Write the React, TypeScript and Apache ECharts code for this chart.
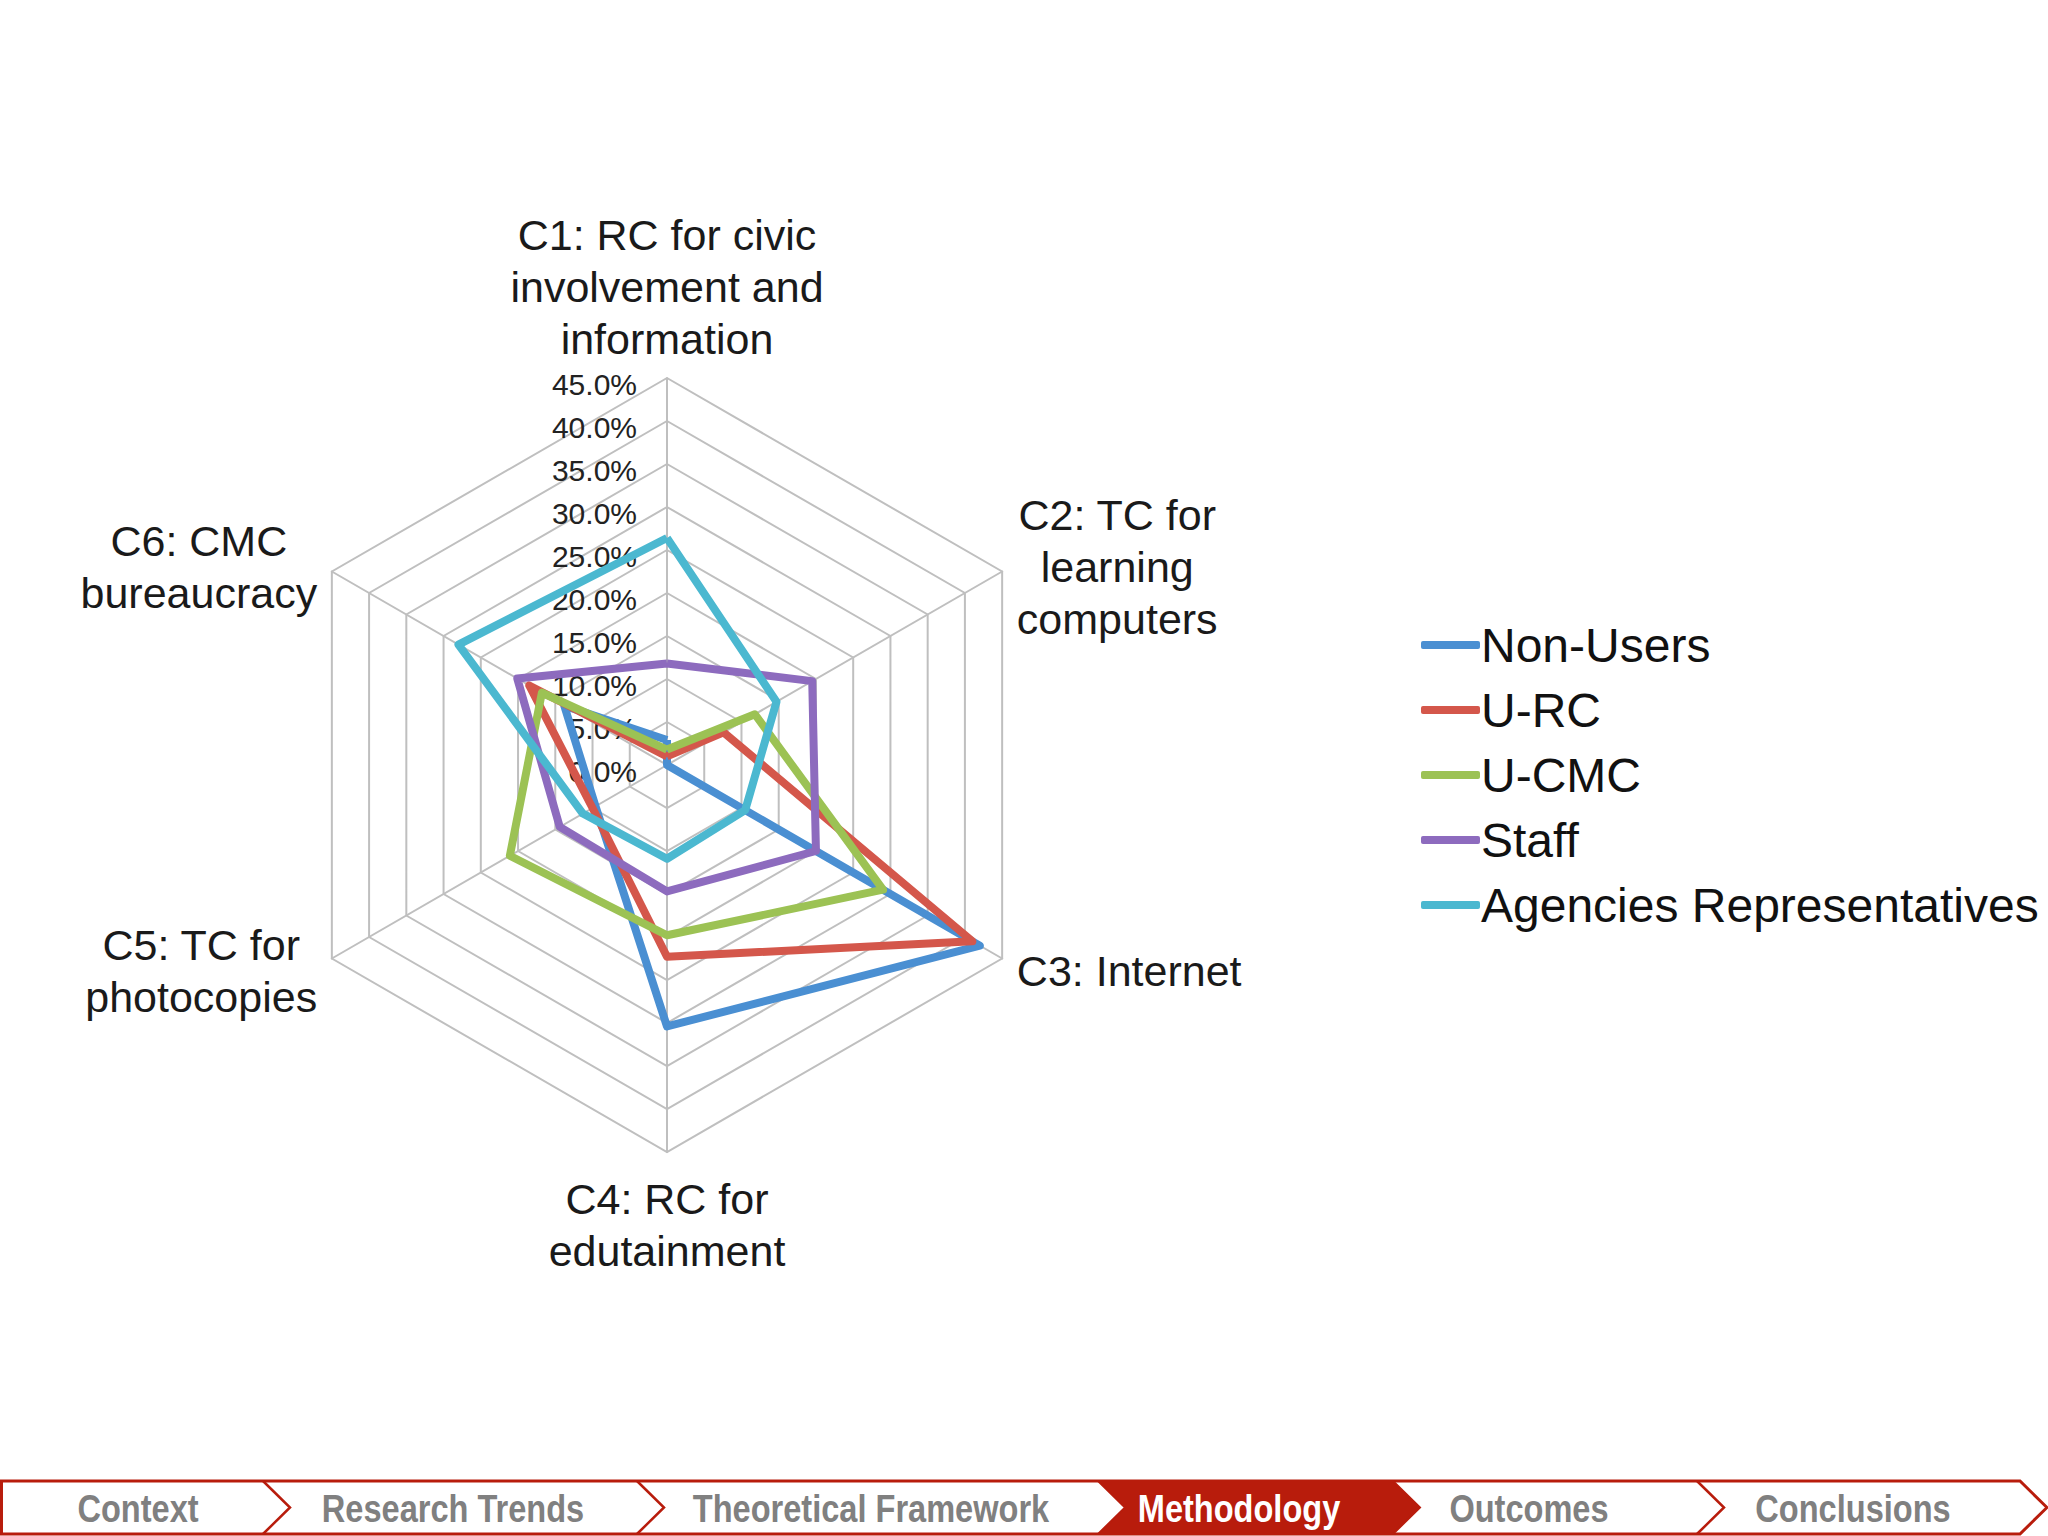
import React, { useEffect, useRef } from "react";
import * as echarts from "echarts";

// ---------- data ----------
const categories = [
  "C1: RC for civic\ninvolvement and\ninformation",
  "C2: TC for\nlearning\ncomputers",
  "C3: Internet",
  "C4: RC for\nedutainment",
  "C5: TC for\nphotocopies",
  "C6: CMC\nbureaucracy",
];
const seriesNames = ["Non-Users", "U-RC", "U-CMC", "Staff", "Agencies Representatives"];
// values in percent, order C1..C6
const nonUsers = [2.9, 0, 42.0, 30.4, 9.6, 13.8];
const uRC = [1.0, 7.6, 41.0, 22.3, 10.0, 18.5];
const uCMC = [1.8, 11.8, 29.0, 19.8, 21.1, 16.8];
const staff = [11.8, 19.5, 20.0, 14.7, 14.4, 20.1];
const agencies = [26.4, 14.7, 10.5, 10.9, 11.3, 28.0];
const axisMin = 0;
const axisMax = 45;
const axisSplits = 9;
const navItems = ["Context", "Research Trends", "Theoretical Framework", "Methodology", "Outcomes", "Conclusions"];
const activeNav = 3;

const seriesValues = [nonUsers, uRC, uCMC, staff, agencies];
const colors = ["#4A8FD2", "#D4574B", "#9CC254", "#8D6BBE", "#4BB8D0"];
const FONT = "'Liberation Sans', Arial, Helvetica, sans-serif";

export default function App() {
  const ref = useRef<HTMLDivElement>(null);

  useEffect(() => {
    if (!ref.current) return;
    const chart = echarts.init(ref.current, undefined, { renderer: "svg" });

    // ECharts lays indicators counter-clockwise; reorder so C2 sits upper-right
    const order = [0, 5, 4, 3, 2, 1];

    const indicator = order.map((k, j) => {
      const ind: any = { name: categories[k], min: axisMin, max: axisMax };
      if (k === 0 || k === 3) ind.nameGap = 13;
      if (j === 0) {
        ind.axisLabel = {
          show: true,
          color: "#222",
          fontSize: 30,
          fontFamily: FONT,
          align: "right",
          margin: 30,
          formatter: (v: number) => `{t|${Number(v).toFixed(1)}%}`,
          rich: {
            t: { fontSize: 30, color: "#222", fontFamily: FONT, padding: [12, 0, 0, 0] },
          },
        };
      }
      return ind;
    });

    // nav bar geometry (decoration)
    const top = 1481;
    const bot = 1534;
    const mid = (top + bot) / 2;
    const depth = 27;
    const backs = [263, 637, 1098, 1393, 1697, 2020];
    const textCenters = [138, 453, 871, 1239, 1529, 1853];
    const red = "#B81C0C";

    const graphic: any[] = [
      {
        type: "polygon",
        shape: {
          points: [
            [1.5, top],
            [backs[5], top],
            [backs[5] + depth, mid],
            [backs[5], bot],
            [1.5, bot],
          ],
        },
        style: { fill: "#fff", stroke: red, lineWidth: 3 },
      },
      {
        type: "polygon",
        shape: {
          points: [
            [backs[2], top],
            [backs[3], top],
            [backs[3] + depth, mid],
            [backs[3], bot],
            [backs[2], bot],
            [backs[2] + depth, mid],
          ],
        },
        style: { fill: red, stroke: red, lineWidth: 2 },
      },
    ];
    [0, 1, 4].forEach((i) => {
      graphic.push({
        type: "polyline",
        shape: { points: [[backs[i], top], [backs[i] + depth, mid], [backs[i], bot]] },
        style: { stroke: red, lineWidth: 2.5, fill: null },
      });
    });
    navItems.forEach((t, i) => {
      graphic.push({
        type: "text",
        x: textCenters[i],
        y: mid + 1,
        scaleX: 0.835,
        style: {
          text: t,
          fontSize: 39,
          fontWeight: "bold",
          fontFamily: FONT,
          fill: i === activeNav ? "#ffffff" : "#808080",
          align: "center",
          verticalAlign: "middle",
        },
      });
    });

    chart.setOption({
      animation: false,
      backgroundColor: "#ffffff",
      textStyle: { fontFamily: FONT },
      color: colors,
      legend: {
        orient: "vertical",
        left: 1421,
        top: 621,
        padding: 0,
        itemWidth: 59,
        itemHeight: 8,
        itemGap: 17,
        icon: "roundRect",
        data: seriesNames,
        textStyle: { fontSize: 48, lineHeight: 48, color: "#111", fontFamily: FONT, padding: [0, 0, 0, -4] },
      },
      radar: {
        center: [667, 765],
        radius: 387,
        startAngle: 90,
        shape: "polygon",
        splitNumber: axisSplits,
        nameGap: 17,
        indicator,
        axisName: {
          color: "#1a1a1a",
          fontSize: 43,
          fontFamily: FONT,
          padding: [8, 0, 0, 0],
          formatter: (name: string) =>
            name
              .split("\n")
              .map((l) => `{c|${l}}`)
              .join("\n"),
          rich: {
            c: { align: "center", fontSize: 43, lineHeight: 52, color: "#1a1a1a", fontFamily: FONT },
          },
        },
        axisLine: { lineStyle: { color: "#bfbfbf", width: 2 } },
        splitLine: { lineStyle: { color: "#bfbfbf", width: 2 } },
        splitArea: { show: false },
        axisTick: { show: false },
        axisLabel: { show: false },
      },
      series: [
        {
          type: "radar",
          symbol: "none",
          data: seriesNames.map((n, i) => ({
            name: n,
            value: order.map((k) => seriesValues[i][k]),
            lineStyle: { width: 8, color: colors[i] },
            itemStyle: { color: colors[i] },
          })),
        },
      ],
      graphic,
    });

    return () => chart.dispose();
  }, []);

  return (
    <div
      ref={ref}
      style={{ position: "fixed", left: 0, top: 0, width: 2048, height: 1536, background: "#fff" }}
    />
  );
}
